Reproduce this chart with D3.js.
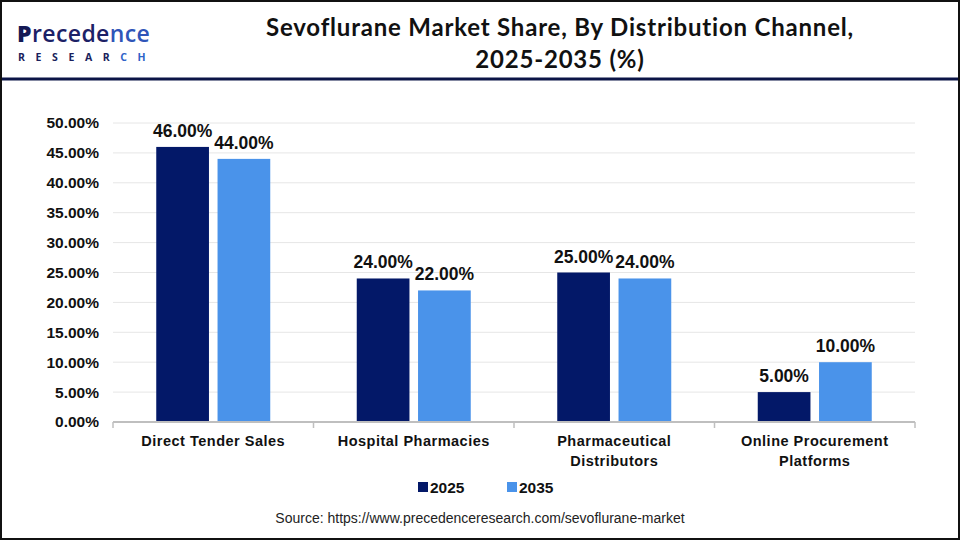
<!DOCTYPE html>
<html>
<head>
<meta charset="utf-8">
<script src="https://cdn.jsdelivr.net/npm/d3@7"></script>
<style>
  body { margin: 0; background: #fff; }
  svg { display: block; font-family: "Liberation Sans", Arial, sans-serif; }
</style>
</head>
<body>
<svg id="chart" width="960" height="540"></svg>
<script>
// data
const categories = [
  ['Direct Tender Sales'],
  ['Hospital Pharmacies'],
  ['Pharmaceutical', 'Distributors'],
  ['Online Procurement', 'Platforms']
];
const seriesNames = ['2025', '2035'];
const values2025 = [46, 24, 25, 5];
const values2035 = [44, 22, 24, 10];
const yTicks = [0, 5, 10, 15, 20, 25, 30, 35, 40, 45, 50];

const colors = ['#031868', '#4a93ea'];

const svg = d3.select('#chart');
const W = 960, H = 540;

// frame + header rule
svg.append('rect')
  .attr('x', 1).attr('y', 1).attr('width', W - 2).attr('height', H - 2)
  .attr('fill', '#fff').attr('stroke', '#111').attr('stroke-width', 2);
svg.append('line')
  .attr('x1', 2).attr('x2', W - 2).attr('y1', 79).attr('y2', 79)
  .attr('stroke', '#0b1446').attr('stroke-width', 3);

// logo
const logo = svg.append('g').attr('font-family', '"Open Sans", sans-serif');
const logoTop = logo.append('text')
  .attr('x', 17).attr('y', 42)
  .attr('font-size', 23).attr('font-weight', 600).attr('fill', '#1c2166')
  .attr('letter-spacing', 0.4);
logoTop.append('tspan').attr('font-weight', 800).attr('fill', '#141a55').text('P');
logoTop.append('tspan').text('recede');
logoTop.append('tspan').attr('fill', '#2f55b8').text('nce');
const logoBottom = logo.append('text')
  .attr('x', 18).attr('y', 61)
  .attr('font-size', 10.5).attr('font-weight', 700).attr('fill', '#1a1f5c')
  .attr('letter-spacing', 10.6);
logoBottom.append('tspan').text('RESEAR');
logoBottom.append('tspan').attr('fill', '#2f62c8').text('CH');

// title
const title = svg.append('text')
  .attr('text-anchor', 'middle')
  .attr('font-family', 'Lato, "Open Sans", sans-serif')
  .attr('font-size', 24).attr('font-weight', 700).attr('fill', '#111')
  .attr('letter-spacing', 0.8);
title.append('tspan').attr('x', 560).attr('y', 36)
  .text('Sevoflurane Market Share, By Distribution Channel,');
title.append('tspan').attr('x', 560).attr('y', 68)
  .text('2025-2035 (%)');

// plot area
const margin = { left: 113, right: 45, top: 123, bottom: 118 };
const width = W - margin.left - margin.right;
const height = H - margin.top - margin.bottom;

const g = svg.append('g')
  .attr('transform', `translate(${margin.left},${margin.top})`);

const x0 = d3.scaleBand()
  .domain(categories.map((d, i) => i))
  .range([0, width])
  .paddingInner(0)
  .paddingOuter(0);

const x1 = d3.scaleBand()
  .domain(seriesNames)
  .range([x0.bandwidth() / 2 - 57, x0.bandwidth() / 2 + 57])
  .paddingInner(0.14);

const y = d3.scaleLinear().domain([0, 50]).range([height, 0]);

// gridlines
g.append('g')
  .selectAll('line')
  .data(yTicks.slice(1))
  .join('line')
  .attr('x1', 0).attr('x2', width)
  .attr('y1', d => y(d)).attr('y2', d => y(d))
  .attr('stroke', '#e6e6e6').attr('stroke-width', 1);

// y axis
const yAxis = g.append('g')
  .call(d3.axisLeft(y).tickValues(yTicks).tickSize(0).tickPadding(14)
    .tickFormat(d => d.toFixed(2) + '%'));
yAxis.select('.domain').remove();
yAxis.selectAll('text')
  .attr('font-size', 15.5).attr('font-weight', 700).attr('fill', '#111')
  .attr('font-family', '"Liberation Sans", Arial, sans-serif');

// bars
const rows = categories.map((c, i) => ({ i, vals: [values2025[i], values2035[i]] }));
const groups = g.append('g')
  .selectAll('g')
  .data(rows)
  .join('g')
  .attr('transform', d => `translate(${x0(d.i)},0)`);

groups.selectAll('rect')
  .data(d => d.vals.map((v, k) => ({ k, v })))
  .join('rect')
  .attr('x', d => x1(seriesNames[d.k]))
  .attr('y', d => y(d.v))
  .attr('width', x1.bandwidth())
  .attr('height', d => height - y(d.v))
  .attr('fill', d => colors[d.k]);

groups.selectAll('text.val')
  .data(d => d.vals.map((v, k) => ({ k, v })))
  .join('text')
  .attr('class', 'val')
  .attr('x', d => x1(seriesNames[d.k]) + x1.bandwidth() / 2)
  .attr('y', d => y(d.v) - 10)
  .attr('text-anchor', 'middle')
  .attr('font-size', 17.5).attr('font-weight', 700).attr('fill', '#111')
  .text(d => d.v.toFixed(2) + '%');

// x axis
const xAxis = g.append('g')
  .attr('transform', `translate(0,${height})`);
xAxis.append('line')
  .attr('x1', 0).attr('x2', width)
  .attr('stroke', '#bfbfbf').attr('stroke-width', 2);
xAxis.selectAll('line.tick')
  .data(d3.range(categories.length + 1))
  .join('line')
  .attr('class', 'tick')
  .attr('x1', d => d === categories.length ? width : x0(d))
  .attr('x2', d => d === categories.length ? width : x0(d))
  .attr('y1', 0).attr('y2', 6)
  .attr('stroke', '#bfbfbf').attr('stroke-width', 1.5);

xAxis.selectAll('text.cat')
  .data(categories)
  .join('text')
  .attr('class', 'cat')
  .attr('x', (d, i) => x0(i) + x0.bandwidth() / 2)
  .attr('text-anchor', 'middle')
  .attr('font-size', 14.5).attr('font-weight', 700).attr('fill', '#111')
  .attr('letter-spacing', 0.5)
  .selectAll('tspan')
  .data(d => d)
  .join('tspan')
  .attr('x', function () { return d3.select(this.parentNode).attr('x'); })
  .attr('y', (d, i) => 24 + i * 20)
  .text(d => d);

// legend
const legend = svg.append('g');
const legendX = [418, 507];
seriesNames.forEach((s, k) => {
  legend.append('rect')
    .attr('x', legendX[k]).attr('y', 482)
    .attr('width', 10).attr('height', 10)
    .attr('fill', colors[k]);
  legend.append('text')
    .attr('x', legendX[k] + 12).attr('y', 493)
    .attr('font-size', 15.5).attr('font-weight', 700).attr('fill', '#111')
    .text(s);
});

// source
svg.append('text')
  .attr('x', 480).attr('y', 523)
  .attr('text-anchor', 'middle')
  .attr('font-size', 14).attr('fill', '#222')
  .text('Source: https://www.precedenceresearch.com/sevoflurane-market');
</script>
</body>
</html>
